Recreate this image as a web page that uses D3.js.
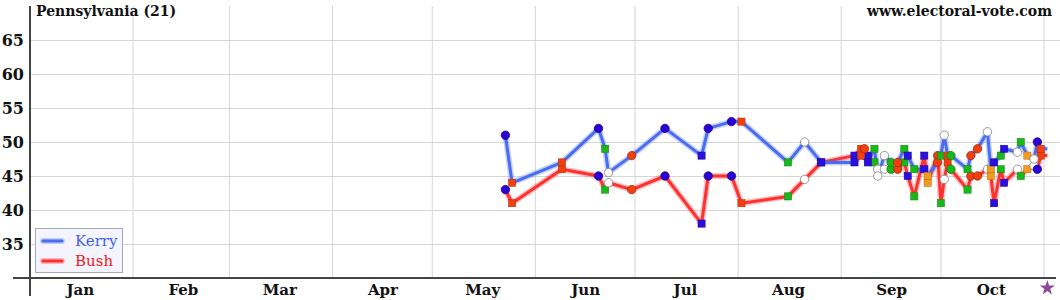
<!DOCTYPE html>
<html lang="en">
<head>
<meta charset="utf-8">
<title>Pennsylvania (21)</title>
<script src="https://d3js.org/d3.v7.min.js"></script>
<style>
  body { margin: 0; background: #fff; }
  svg text { font-family: "DejaVu Serif", serif; font-weight: bold; }
</style>
</head>
<body>
<div id="chart"></div>
<script>
// poll data
var pollDates = ["2004-05-23","2004-05-25","2004-06-09","2004-06-20","2004-06-22","2004-06-23","2004-06-30",
  "2004-07-10","2004-07-21","2004-07-23","2004-07-30","2004-08-02","2004-08-16","2004-08-21","2004-08-26",
  "2004-09-05","2004-09-07","2004-09-08","2004-09-09","2004-09-11","2004-09-12","2004-09-14","2004-09-16",
  "2004-09-18","2004-09-20","2004-09-21","2004-09-23","2004-09-26","2004-09-27","2004-09-30",
  "2004-10-01","2004-10-02","2004-10-03","2004-10-04","2004-10-09","2004-10-10","2004-10-12","2004-10-15",
  "2004-10-16","2004-10-17","2004-10-19","2004-10-20","2004-10-24","2004-10-25","2004-10-27","2004-10-29",
  "2004-10-30","2004-10-31"];
var kerry = [51,44,47,52,49,45.5,48, 52,48,52,53,53,47,50,47,
  47,48,49,47,49,45,48,47, 47,49,48,46,46,45,47,
  48,51,48,48,46,48,49,51.5, 46,47,48,49,48.5,50,48,47.5, 50,49];
var bush = [43,41,46,45,43,44,43, 45,38,45,45,41,42,44.5,47,
  48,49,48,48,47,46,46,46, 46,47,45,42,48,44,48,
  41,44.5,47,46,43,45,45,46, 45,41,46,44,46,45,46,46.5, 46,48];
// pollster marker: bc blue circle, bs blue square, rs red square, rc red circle,
// gs green square, gc green circle, os orange square, wc white circle
var pollMark = ["bc","rs","rs","bc","gs","wc","rc", "bc","bs","bc","bc","rs","gs","wc","bs",
  "bs","rs","rc","bs","gs","wc","wc","gc", "rc","gs","bs","gs","bs","os","rc",
  "gs","wc","rs","gc","gs","rc","rc","wc", "os","bs","gs","bs","wc","gs","os","wc", "bc","rs"];

var yTicks = [35, 40, 45, 50, 55, 60, 65];
var monthNames = ["Jan","Feb","Mar","Apr","May","Jun","Jul","Aug","Sep","Oct"];
var electionDay = "2004-11-02";

var W = 1060, H = 300;
var parse = d3.timeParse("%Y-%m-%d");

var x = d3.scaleTime()
  .domain([new Date(2004, 0, 1), new Date(2004, 10, 1)])
  .range([30, 1044]);
var y = d3.scaleLinear().domain([30, 70]).range([278, 6]);

var markStyle = {
  bc: {shape: "c", fill: "#2a00d4", stroke: "#1a0090"},
  bs: {shape: "s", fill: "#2a10e0", stroke: "#1a0090"},
  rs: {shape: "s", fill: "#f04010", stroke: "#b03010"},
  rc: {shape: "c", fill: "#f04010", stroke: "#a02a10"},
  gs: {shape: "s", fill: "#18b818", stroke: "#108010"},
  gc: {shape: "c", fill: "#18b818", stroke: "#108010"},
  os: {shape: "s", fill: "#f09a20", stroke: "#b07010"},
  wc: {shape: "c", fill: "#ffffff", stroke: "#808080"}
};

var svg = d3.select("#chart").append("svg")
  .attr("width", W).attr("height", H);

// grid
var monthStarts = d3.timeMonth.range(new Date(2004, 1, 1), new Date(2004, 10, 2));
svg.append("g").selectAll("line").data(monthStarts).join("line")
  .attr("x1", d => x(d)).attr("x2", d => x(d))
  .attr("y1", 6).attr("y2", 278)
  .attr("stroke", "#d6d6d6").attr("stroke-width", 1);

svg.append("g").selectAll("line").data(yTicks).join("line")
  .attr("x1", 30).attr("x2", W)
  .attr("y1", d => y(d) + 0.5).attr("y2", d => y(d) + 0.5)
  .attr("stroke", "#d6d6d6").attr("stroke-width", 1);

// y axis labels
var yAxis = d3.axisLeft(y).tickValues(yTicks).tickSize(0).tickPadding(6);
var gy = svg.append("g").attr("transform", "translate(30,0)").call(yAxis);
gy.select(".domain").remove();
gy.selectAll("text").attr("font-size", 16).attr("fill", "#111")
  .style("font-family", "'DejaVu Serif',serif").style("font-weight", "bold");

// x axis labels (month centres)
var monthMids = monthNames.map((m, i) => new Date(2004, i, 16));
var xAxis = d3.axisBottom(x).tickValues(monthMids).tickSize(0).tickPadding(6)
  .tickFormat((d, i) => monthNames[i]);
var gx = svg.append("g").attr("transform", "translate(0,278)").call(xAxis);
gx.select(".domain").remove();
gx.selectAll("text").attr("font-size", 15).attr("fill", "#111")
  .style("font-family", "'DejaVu Serif',serif").style("font-weight", "bold");

// axis lines
svg.append("line").attr("x1", 13).attr("x2", 1056).attr("y1", 278).attr("y2", 278)
  .attr("stroke", "#444").attr("stroke-width", 2);
svg.append("line").attr("x1", 30).attr("x2", 30).attr("y1", 6).attr("y2", 296)
  .attr("stroke", "#444").attr("stroke-width", 2);

// series lines
var pts = pollDates.map((d, i) => ({date: parse(d), k: kerry[i], b: bush[i], m: pollMark[i]}));
var lineK = pts.map(p => [p.date, p.k]).concat([[parse(electionDay), kerry[kerry.length - 1]]]);
var lineB = pts.map(p => [p.date, p.b]).concat([[parse(electionDay), bush[bush.length - 1]]]);
var line = d3.line().x(d => x(d[0])).y(d => y(d[1]));

function drawSeries(data, color) {
  svg.append("path").attr("d", line(data)).attr("fill", "none")
    .attr("stroke", color).attr("stroke-width", 6).attr("stroke-opacity", 0.3)
    .attr("stroke-linejoin", "round");
  svg.append("path").attr("d", line(data)).attr("fill", "none")
    .attr("stroke", color).attr("stroke-width", 3)
    .attr("stroke-linejoin", "round");
}
drawSeries(lineB, "#ff3030");
drawSeries(lineK, "#4a6cf0");

// markers
function drawMarks(key) {
  var g = svg.append("g");
  pts.forEach(function(p) {
    var st = markStyle[p.m], cx = x(p.date), cy = y(p[key]);
    if (st.shape === "c") {
      g.append("circle").attr("cx", cx).attr("cy", cy).attr("r", 4.2)
        .attr("fill", st.fill).attr("stroke", st.stroke).attr("stroke-width", 0.8);
    } else {
      g.append("rect").attr("x", cx - 3.6).attr("y", cy - 3.6).attr("width", 7.2).attr("height", 7.2)
        .attr("fill", st.fill).attr("stroke", st.stroke).attr("stroke-width", 0.5);
    }
  });
}
drawMarks("b");
drawMarks("k");

// election day star
svg.append("path")
  .attr("d", d3.symbol().type(d3.symbolStar).size(70)())
  .attr("transform", "translate(" + x(parse(electionDay)) + ",288)")
  .attr("fill", "#8a4a9a");

// titles
svg.append("text").attr("x", 36).attr("y", 16).attr("font-size", 14).attr("fill", "#111")
  .text("Pennsylvania (21)");
svg.append("text").attr("x", 1052).attr("y", 16).attr("font-size", 14).attr("fill", "#111")
  .attr("text-anchor", "end").text("www.electoral-vote.com");

// legend
var lg = svg.append("g");
lg.append("rect").attr("x", 35.5).attr("y", 228.5).attr("width", 87).attr("height", 44)
  .attr("fill", "#f4f4ff").attr("stroke", "#a8a8b8");
var legendItems = [["Kerry", "#4a6cf0", "#3f5fe8"], ["Bush", "#ff3030", "#f02020"]];
legendItems.forEach(function(it, i) {
  var ly = 241 + i * 20;
  lg.append("line").attr("x1", 43).attr("x2", 62).attr("y1", ly).attr("y2", ly)
    .attr("stroke", it[1]).attr("stroke-width", 6).attr("stroke-opacity", 0.3).attr("stroke-linecap", "round");
  lg.append("line").attr("x1", 43).attr("x2", 62).attr("y1", ly).attr("y2", ly)
    .attr("stroke", it[1]).attr("stroke-width", 3).attr("stroke-linecap", "round");
  lg.append("text").attr("x", 75).attr("y", ly + 5).attr("font-size", 15)
    .attr("fill", it[2]).style("font-weight", "normal").text(it[0]);
});
</script>
</body>
</html>
